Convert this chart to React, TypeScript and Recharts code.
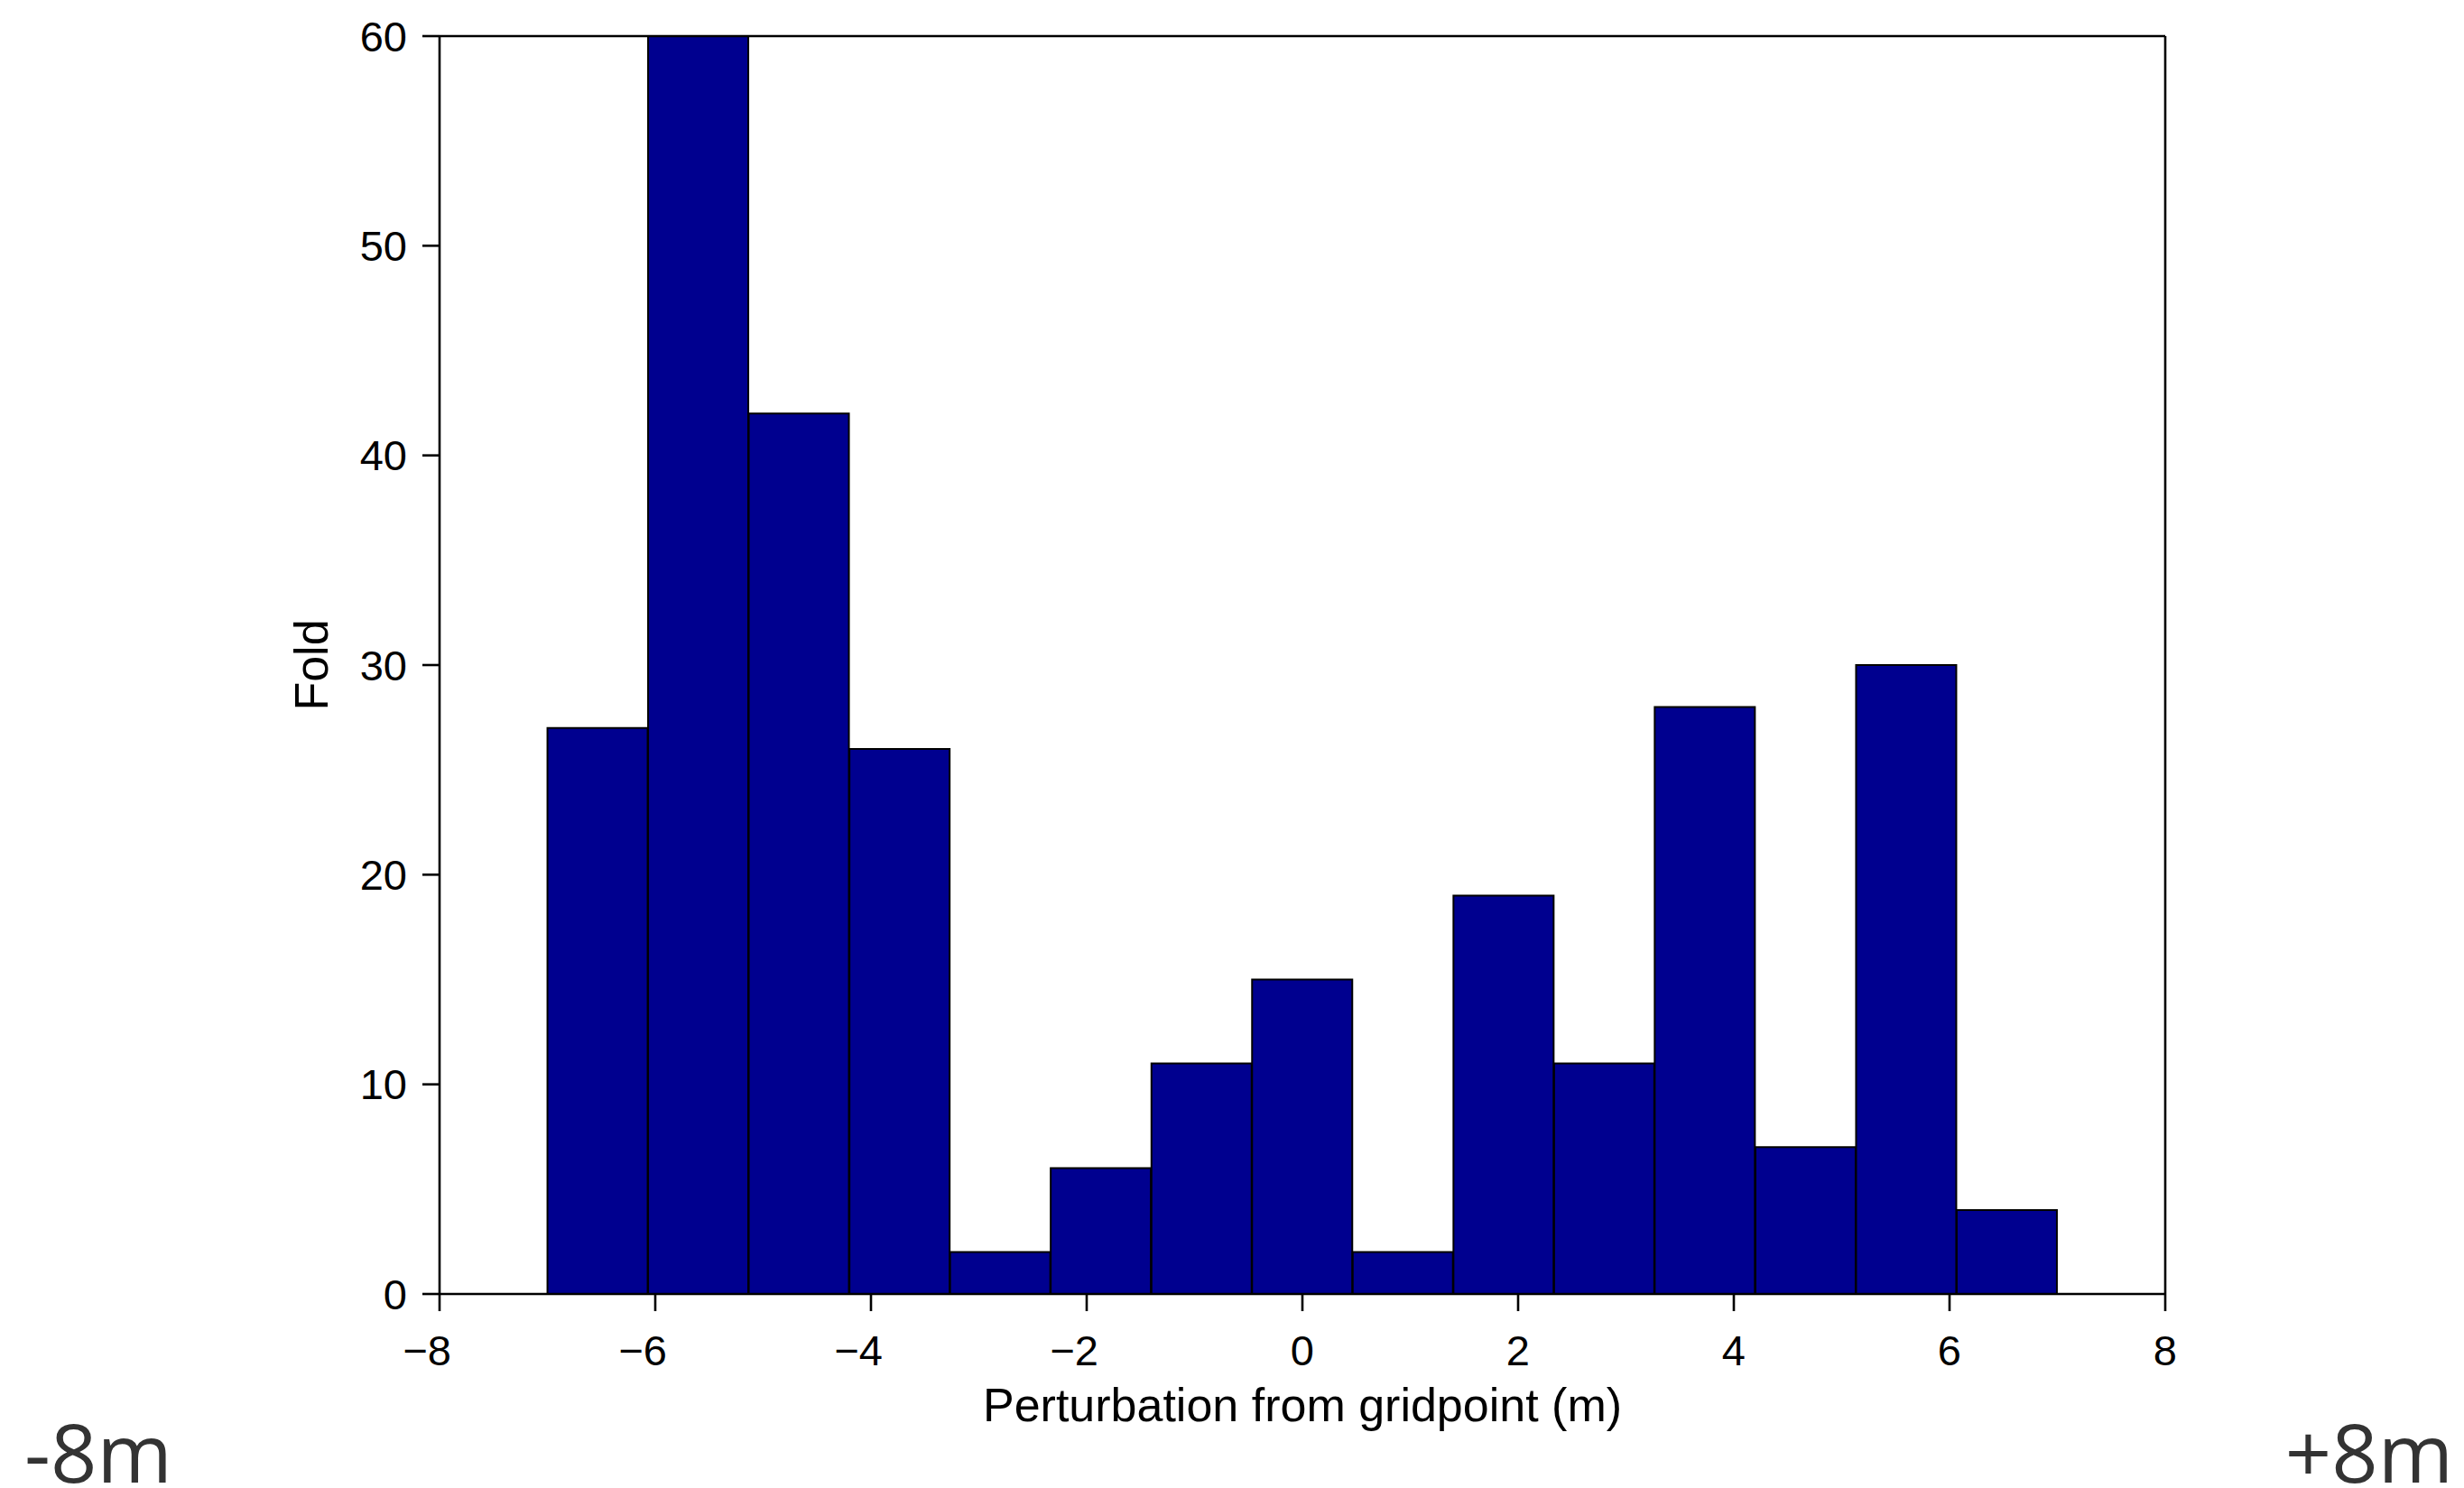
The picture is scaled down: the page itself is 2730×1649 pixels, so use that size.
import { Bar, BarChart, Label, XAxis, YAxis } from 'recharts'

// histogram bins (centres in m) and their counts
const binCenters = [-6.533, -5.6, -4.667, -3.733, -2.8, -1.867, -0.933, 0, 0.933, 1.867, 2.8, 3.733, 4.667, 5.6, 6.533]
const foldCounts = [27, 60, 42, 26, 2, 6, 11, 15, 2, 19, 11, 28, 7, 30, 4]

const xTicks = [-8, -6, -4, -2, 0, 2, 4, 6, 8]
const yTicks = [0, 10, 20, 30, 40, 50, 60]

const xTitle = 'Perturbation from gridpoint (m)'
const yTitle = 'Fold'
const leftCorner = '-8m'
const rightCorner = '+8m'

const histogram = binCenters.map((x, i) => ({ x, count: foldCounts[i] }))

const FONT = '"Liberation Sans", Arial, Helvetica, sans-serif'
const TICK_SIZE = 47
const TITLE_SIZE = 52
const line = { stroke: '#000', strokeWidth: 2.6 }

function XTick({ x, y, payload }: any) {
  const v = payload.value as number
  const text = v < 0 ? `\u2212${Math.abs(v)}` : `${v}`
  // keep the digit centred on the tick, the minus hangs to the left
  return (
    <text x={x + 13} y={y} dy="0.71em" textAnchor="end" fontSize={TICK_SIZE} fontFamily={FONT} fill="#000">
      {text}
    </text>
  )
}

export default function App() {
  return (
    <div style={{ position: 'absolute', left: 0, top: 0, width: 2730, height: 1649, background: '#fff' }}>
      <BarChart
        width={2730}
        height={1649}
        data={histogram}
        margin={{ top: 0, right: 0, bottom: 0, left: 0 }}
        barCategoryGap={0}
        barGap={0}
      >
        <XAxis
          dataKey="x"
          type="number"
          domain={[-8, 8]}
          ticks={xTicks}
          height={215}
          axisLine={line}
          tickLine={line}
          tickSize={19}
          tickMargin={27}
          tick={<XTick />}
          interval={0}
        >
          <Label
            value={xTitle}
            position="insideTop"
            offset={104}
            fontSize={TITLE_SIZE}
            fontFamily={FONT}
            fill="#000"
          />
        </XAxis>
        <XAxis
          xAxisId="top"
          dataKey="x"
          orientation="top"
          type="number"
          domain={[-8, 8]}
          ticks={xTicks}
          height={40}
          axisLine={line}
          tickLine={line}
          tickSize={19}
          tick={false}
          interval={0}
        />
        <YAxis
          type="number"
          domain={[0, 60]}
          ticks={yTicks}
          width={487}
          axisLine={line}
          tickLine={line}
          tickSize={19}
          tickMargin={17}
          tick={{ fontSize: TICK_SIZE, fontFamily: FONT, fill: '#000' }}
          interval={0}
        >
          <Label
            content={({ viewBox }: any) => {
              const cx = viewBox.x + viewBox.width - 124
              const cy = viewBox.y + viewBox.height / 2
              return (
                <text
                  x={cx}
                  y={cy}
                  transform={`rotate(-90, ${cx}, ${cy})`}
                  textAnchor="middle"
                  fontSize={TITLE_SIZE}
                  fontFamily={FONT}
                  fill="#000"
                >
                  {yTitle}
                </text>
              )
            }}
          />
        </YAxis>
        <YAxis
          yAxisId="right"
          orientation="right"
          type="number"
          domain={[0, 60]}
          ticks={yTicks}
          width={331}
          axisLine={line}
          tickLine={line}
          tickSize={19}
          tick={false}
          interval={0}
        />
        <Bar dataKey="count" fill="#00008F" stroke="#000" strokeWidth={2} isAnimationActive={false} />
      </BarChart>
      <svg width={2730} height={1649} style={{ position: 'absolute', left: 0, top: 0, pointerEvents: 'none' }}>
        <text x={27} y={1643} fontSize={90} fontFamily='"Open Sans", "Noto Sans", sans-serif' fill="#333">
          {leftCorner}
        </text>
        <text x={2718} y={1643} textAnchor="end" fontSize={90} fontFamily='"Open Sans", "Noto Sans", sans-serif' fill="#333">
          {rightCorner}
        </text>
      </svg>
    </div>
  )
}
